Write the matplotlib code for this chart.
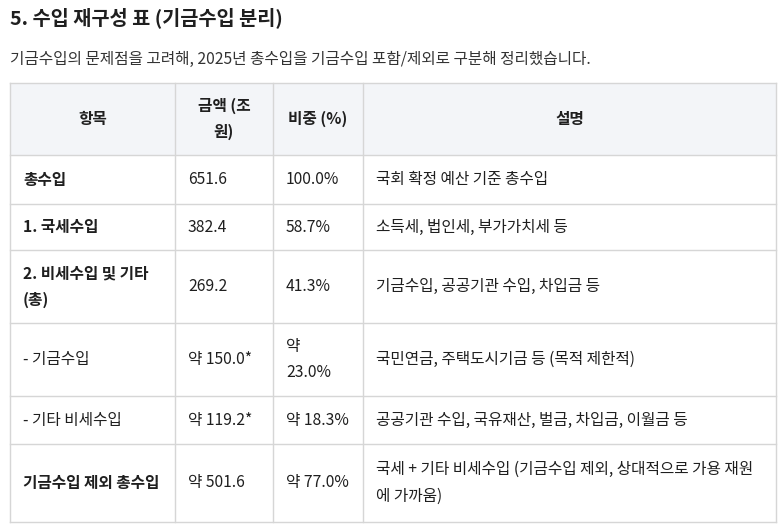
import matplotlib.pyplot as plt
from matplotlib.patches import Rectangle

plt.rcParams['font.family'] = ['Noto Sans CJK KR', 'DejaVu Sans']

title = "5. 수입 재구성 표 (기금수입 분리)"
subtitle = "기금수입의 문제점을 고려해, 2025년 총수입을 기금수입 포함/제외로 구분해 정리했습니다."
headers = ["항목", "금액 (조\n원)", "비중 (%)", "설명"]
items = ["총수입", "1. 국세수입", "2. 비세수입 및 기타\n(총)", "- 기금수입", "- 기타 비세수입", "기금수입 제외 총수입"]
item_bold = [True, True, True, False, False, True]
amounts = ["651.6", "382.4", "269.2", "약 150.0*", "약 119.2*", "약 501.6"]
shares = ["100.0%", "58.7%", "41.3%", "약\n23.0%", "약 18.3%", "약 77.0%"]
notes = ["국회 확정 예산 기준 총수입", "소득세, 법인세, 부가가치세 등", "기금수입, 공공기관 수입, 차입금 등",
         "국민연금, 주택도시기금 등 (목적 제한적)", "공공기관 수입, 국유재산, 벌금, 차입금, 이월금 등",
         "국세 + 기타 비세수입 (기금수입 제외, 상대적으로 가용 재원\n에 가까움)"]

W, H = 784, 526
fig = plt.figure(figsize=(W / 100, H / 100), dpi=100)
ax = fig.add_axes([0, 0, 1, 1])
ax.set_xlim(0, W)
ax.set_ylim(H, 0)
ax.axis('off')

txt = '#1f1f1f'
line = '#d6d6d6'
fs = 11.3
ax.text(10, 18, title, fontsize=14.2, fontweight='bold', color=txt, va='center')
ax.text(10, 59, subtitle, fontsize=fs, color='#333333', va='center')

xs = [10, 175, 273, 363, 776]
ys = [83, 155, 204, 250, 323, 396, 444, 522]

ax.add_patch(Rectangle((xs[0], ys[0]), xs[-1] - xs[0], ys[1] - ys[0], facecolor='#f3f5f8', edgecolor='none'))
for x in xs:
    ax.plot([x, x], [ys[0], ys[-1]], color=line, lw=1)
for y in ys:
    ax.plot([xs[0], xs[-1]], [y, y], color=line, lw=1)

for i, h in enumerate(headers):
    ax.text((xs[i] + xs[i + 1]) / 2, (ys[0] + ys[1]) / 2, h, ha='center', va='center',
            fontsize=fs, fontweight='bold', color=txt, linespacing=1.75)

for r in range(len(items)):
    yc = (ys[r + 1] + ys[r + 2]) / 2
    cells = [items[r], amounts[r], shares[r], notes[r]]
    for c, s in enumerate(cells):
        w = 'bold' if (c == 0 and item_bold[r]) else 'normal'
        ax.text(xs[c] + 13, yc, s, ha='left', va='center', fontsize=fs,
                fontweight=w, color=txt, linespacing=1.75)

fig.savefig('out.png', dpi=100, facecolor='white')
